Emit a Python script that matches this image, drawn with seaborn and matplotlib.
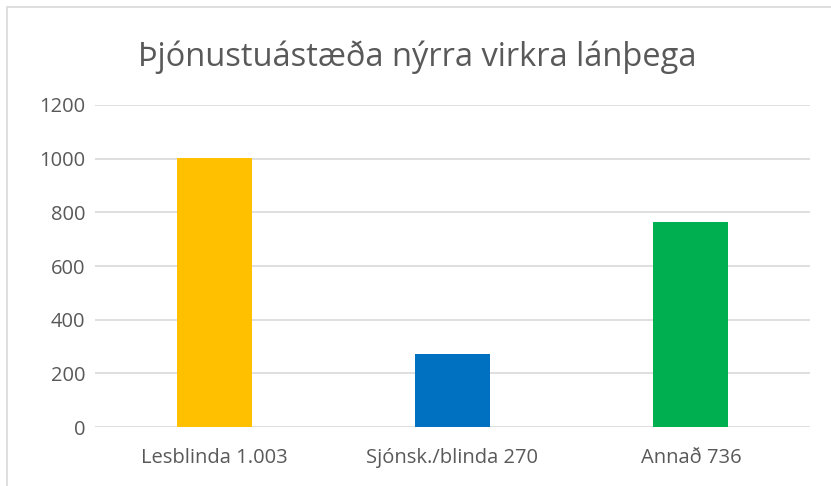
#! /usr/bin/env python3
# -*- coding: utf-8 -*-

import pandas as pd
import matplotlib
matplotlib.use('Agg')
import matplotlib.pyplot as plt
from matplotlib.lines import Line2D
import seaborn as sns

#Data
categories = ['Lesblinda 1.003', 'Sjónsk./blinda 270', 'Annað 736']
values = [1003, 272, 765]
bar_colors = ['#FFC000', '#0070C0', '#00B050']
yticks = [0, 200, 400, 600, 800, 1000, 1200]
title = 'Þjónustuástæða nýrra virkra lánþega'

sns.set_style('white')
plt.rcParams['font.family'] = ['Open Sans', 'DejaVu Sans']

df = pd.DataFrame({'cat': categories, 'val': values})

fig = plt.figure(figsize=(8.31, 4.86), dpi=100)
ax = fig.add_axes([95/831, 1-427/486, (810-95)/831, (427-105)/486])
sns.barplot(data=df, x='cat', y='val', hue='cat', palette=bar_colors,
            width=0.315, legend=False, saturation=1, linewidth=0, ax=ax)

ax.set_ylim(0, 1200)
ax.set_yticks(yticks)
ax.set_xlim(-0.5, 2.5)
ax.yaxis.grid(True, color='#D9D9D9', linewidth=1.2)
ax.set_axisbelow(True)
for s in ['top', 'right', 'left', 'bottom']:
    ax.spines[s].set_visible(False)
ax.tick_params(axis='both', length=0, labelsize=14.5, labelcolor='#595959')
ax.tick_params(axis='y', pad=7)
ax.tick_params(axis='x', pad=15)
ax.set_xlabel('')
ax.set_ylabel('')

fig.text(0.502, 1-66/486, title, ha='center', va='baseline', fontsize=23.5, color='#595959')

#outer chart border (only top and left visible in crop)
fig.add_artist(Line2D([7/831, 1], [1-7/486, 1-7/486], color='#D9D9D9', linewidth=1.2))
fig.add_artist(Line2D([7/831, 7/831], [0, 1-7/486], color='#D9D9D9', linewidth=1.2))

fig.savefig('out.png', format='png', dpi=100)
plt.close()
